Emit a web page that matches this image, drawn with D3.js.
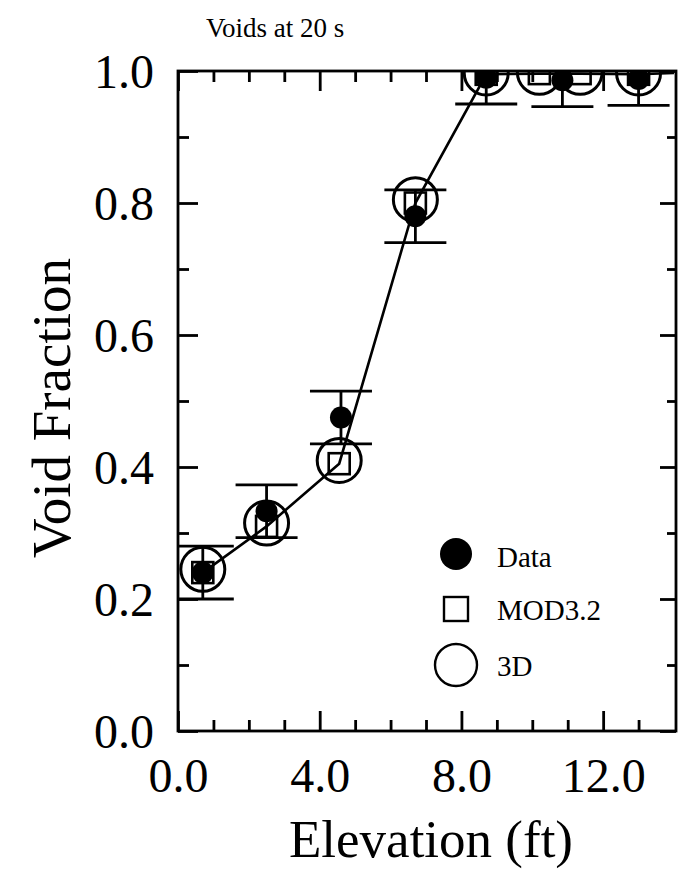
<!DOCTYPE html>
<html>
<head>
<meta charset="utf-8">
<script src="https://cdn.jsdelivr.net/npm/d3@7"></script>
<style>
  body { margin: 0; background: #fff; }
  text { font-family: "Liberation Serif", "DejaVu Serif", serif; fill: #000; }
</style>
</head>
<body>
<svg id="chart" width="680" height="873"></svg>
<script>
// 3D code predictions
const elev3D = [0.7, 2.5, 4.55, 6.7, 8.7, 10.2, 11.35, 13.0];
const void3D = [0.245, 0.315, 0.41, 0.805, 0.997, 0.998, 0.998, 0.997];
// MOD3.2 predictions
const elevMOD = [0.7, 2.5, 4.55, 6.7, 8.7, 10.2, 11.35, 13.0];
const voidMOD = [0.24, 0.31, 0.405, 0.80, 0.995, 0.996, 0.996, 0.995];
// Measured data with uncertainty
const elevData = [0.7, 2.5, 4.6, 6.7, 8.7, 10.85, 13.0];
const voidData = [0.24, 0.333, 0.475, 0.78, 0.99, 0.986, 0.988];
const voidErr  = [0.04, 0.04, 0.04, 0.04, 0.04, 0.04, 0.04];

const xMajor = [0, 4, 8, 12];
const xMinor = [1, 2, 3, 5, 6, 7, 9, 10, 11, 13];
const yMajor = [0, 0.2, 0.4, 0.6, 0.8, 1.0];
const yMinor = [0.1, 0.3, 0.5, 0.7, 0.9];

const legendItems = ["Data", "MOD3.2", "3D"];

const svg = d3.select("#chart");
const plotLeft = 178, plotRight = 676, plotTop = 71, plotBottom = 731;

const x = d3.scaleLinear().domain([0, 14]).range([plotLeft, plotRight - 2]);
const y = d3.scaleLinear().domain([0, 1]).range([plotBottom, plotTop]);

const fmt = d3.format(".1f");
const STROKE = 2.8;

svg.append("defs").append("clipPath").attr("id", "plotClip")
  .append("rect").attr("x", plotLeft).attr("y", plotTop)
  .attr("width", plotRight - plotLeft).attr("height", plotBottom - plotTop);

// Axes: ticks point inward on all four sides
function styleAxis(g) {
  g.select(".domain").remove();
  g.selectAll(".tick line").attr("stroke", "#000").attr("stroke-width", STROKE);
}

svg.append("g").attr("transform", `translate(0,${plotBottom})`)
  .call(d3.axisBottom(x).tickValues(xMajor).tickSize(-20).tickFormat(fmt))
  .call(styleAxis)
  .call(g => g.selectAll("text").attr("y", 61).attr("dy", 0)
    .style("font-size", "48px").style("font-family", "Liberation Serif"));
svg.append("g").attr("transform", `translate(0,${plotBottom})`)
  .call(d3.axisBottom(x).tickValues(xMinor).tickSize(-11).tickFormat(""))
  .call(styleAxis);

svg.append("g").attr("transform", `translate(0,${plotTop})`)
  .call(d3.axisTop(x).tickValues(xMajor).tickSize(-20).tickFormat(""))
  .call(styleAxis);
svg.append("g").attr("transform", `translate(0,${plotTop})`)
  .call(d3.axisTop(x).tickValues(xMinor).tickSize(-11).tickFormat(""))
  .call(styleAxis);

svg.append("g").attr("transform", `translate(${plotLeft},0)`)
  .call(d3.axisLeft(y).tickValues(yMajor).tickSize(-20).tickFormat(fmt))
  .call(styleAxis)
  .call(g => g.selectAll("text").attr("x", -24).attr("dy", "0.34em")
    .style("font-size", "48px").style("font-family", "Liberation Serif"));
svg.append("g").attr("transform", `translate(${plotLeft},0)`)
  .call(d3.axisLeft(y).tickValues(yMinor).tickSize(-11).tickFormat(""))
  .call(styleAxis);

svg.append("g").attr("transform", `translate(${plotRight},0)`)
  .call(d3.axisRight(y).tickValues(yMajor).tickSize(-16).tickFormat(""))
  .call(styleAxis);
svg.append("g").attr("transform", `translate(${plotRight},0)`)
  .call(d3.axisRight(y).tickValues(yMinor).tickSize(-9).tickFormat(""))
  .call(styleAxis);

// Frame
svg.append("rect")
  .attr("x", plotLeft).attr("y", plotTop)
  .attr("width", plotRight - plotLeft).attr("height", plotBottom - plotTop)
  .attr("fill", "none").attr("stroke", "#000").attr("stroke-width", STROKE);

const plot = svg.append("g").attr("clip-path", "url(#plotClip)");

// Error bars on measured data
const capHalf = 31;
const err = plot.append("g").attr("stroke", "#000").attr("stroke-width", STROKE);
elevData.forEach((e, i) => {
  const cx = x(e), lo = y(voidData[i] - voidErr[i]), hi = y(voidData[i] + voidErr[i]);
  err.append("line").attr("x1", cx).attr("x2", cx).attr("y1", lo).attr("y2", hi);
  err.append("line").attr("x1", cx - capHalf).attr("x2", cx + capHalf).attr("y1", lo).attr("y2", lo);
  err.append("line").attr("x1", cx - capHalf).attr("x2", cx + capHalf).attr("y1", hi).attr("y2", hi);
});

// Connecting line through the model predictions, continuing along 1.0
const lineData = elevMOD.map((e, i) => [e, voidMOD[i]]).concat([[14, 0.997]]);
plot.append("path")
  .datum(lineData)
  .attr("d", d3.line().x(d => x(d[0])).y(d => y(d[1])))
  .attr("fill", "none").attr("stroke", "#000").attr("stroke-width", 2.6);

// MOD3.2 squares
const sq = 21;
plot.append("g").selectAll("rect").data(elevMOD).join("rect")
  .attr("x", (d) => x(d) - sq / 2)
  .attr("y", (d, i) => y(voidMOD[i]) - sq / 2)
  .attr("width", sq).attr("height", sq)
  .attr("fill", "none").attr("stroke", "#000").attr("stroke-width", 2.6);

// 3D circles
plot.append("g").selectAll("circle").data(elev3D).join("circle")
  .attr("cx", d => x(d)).attr("cy", (d, i) => y(void3D[i]))
  .attr("r", 22)
  .attr("fill", "none").attr("stroke", "#000").attr("stroke-width", 3);

// Measured data points
plot.append("g").selectAll("circle").data(elevData).join("circle")
  .attr("cx", d => x(d)).attr("cy", (d, i) => y(voidData[i]))
  .attr("r", 11).attr("fill", "#000");

// Legend
const lx = 456, ltx = 497;
const legend = svg.append("g");
legend.append("circle").attr("cx", lx).attr("cy", 554).attr("r", 16).attr("fill", "#000");
legend.append("rect").attr("x", lx - 12).attr("y", 597).attr("width", 24).attr("height", 24)
  .attr("fill", "none").attr("stroke", "#000").attr("stroke-width", 2.4);
legend.append("circle").attr("cx", lx).attr("cy", 665).attr("r", 21)
  .attr("fill", "none").attr("stroke", "#000").attr("stroke-width", 2.4);
const legendBase = [567, 620, 676];
legendItems.forEach((t, i) => {
  legend.append("text").attr("x", ltx).attr("y", legendBase[i])
    .style("font-size", "29px").text(t);
});

// Title and axis titles
svg.append("text").attr("x", 206).attr("y", 37)
  .style("font-size", "27px").text("Voids at 20 s");

svg.append("text").attr("x", (plotLeft + plotRight) / 2 + 4).attr("y", 857)
  .attr("text-anchor", "middle").style("font-size", "53px").text("Elevation (ft)");

svg.append("text")
  .attr("transform", "translate(70,408) rotate(-90)")
  .attr("text-anchor", "middle").style("font-size", "55px").text("Void Fraction");
</script>
</body>
</html>
